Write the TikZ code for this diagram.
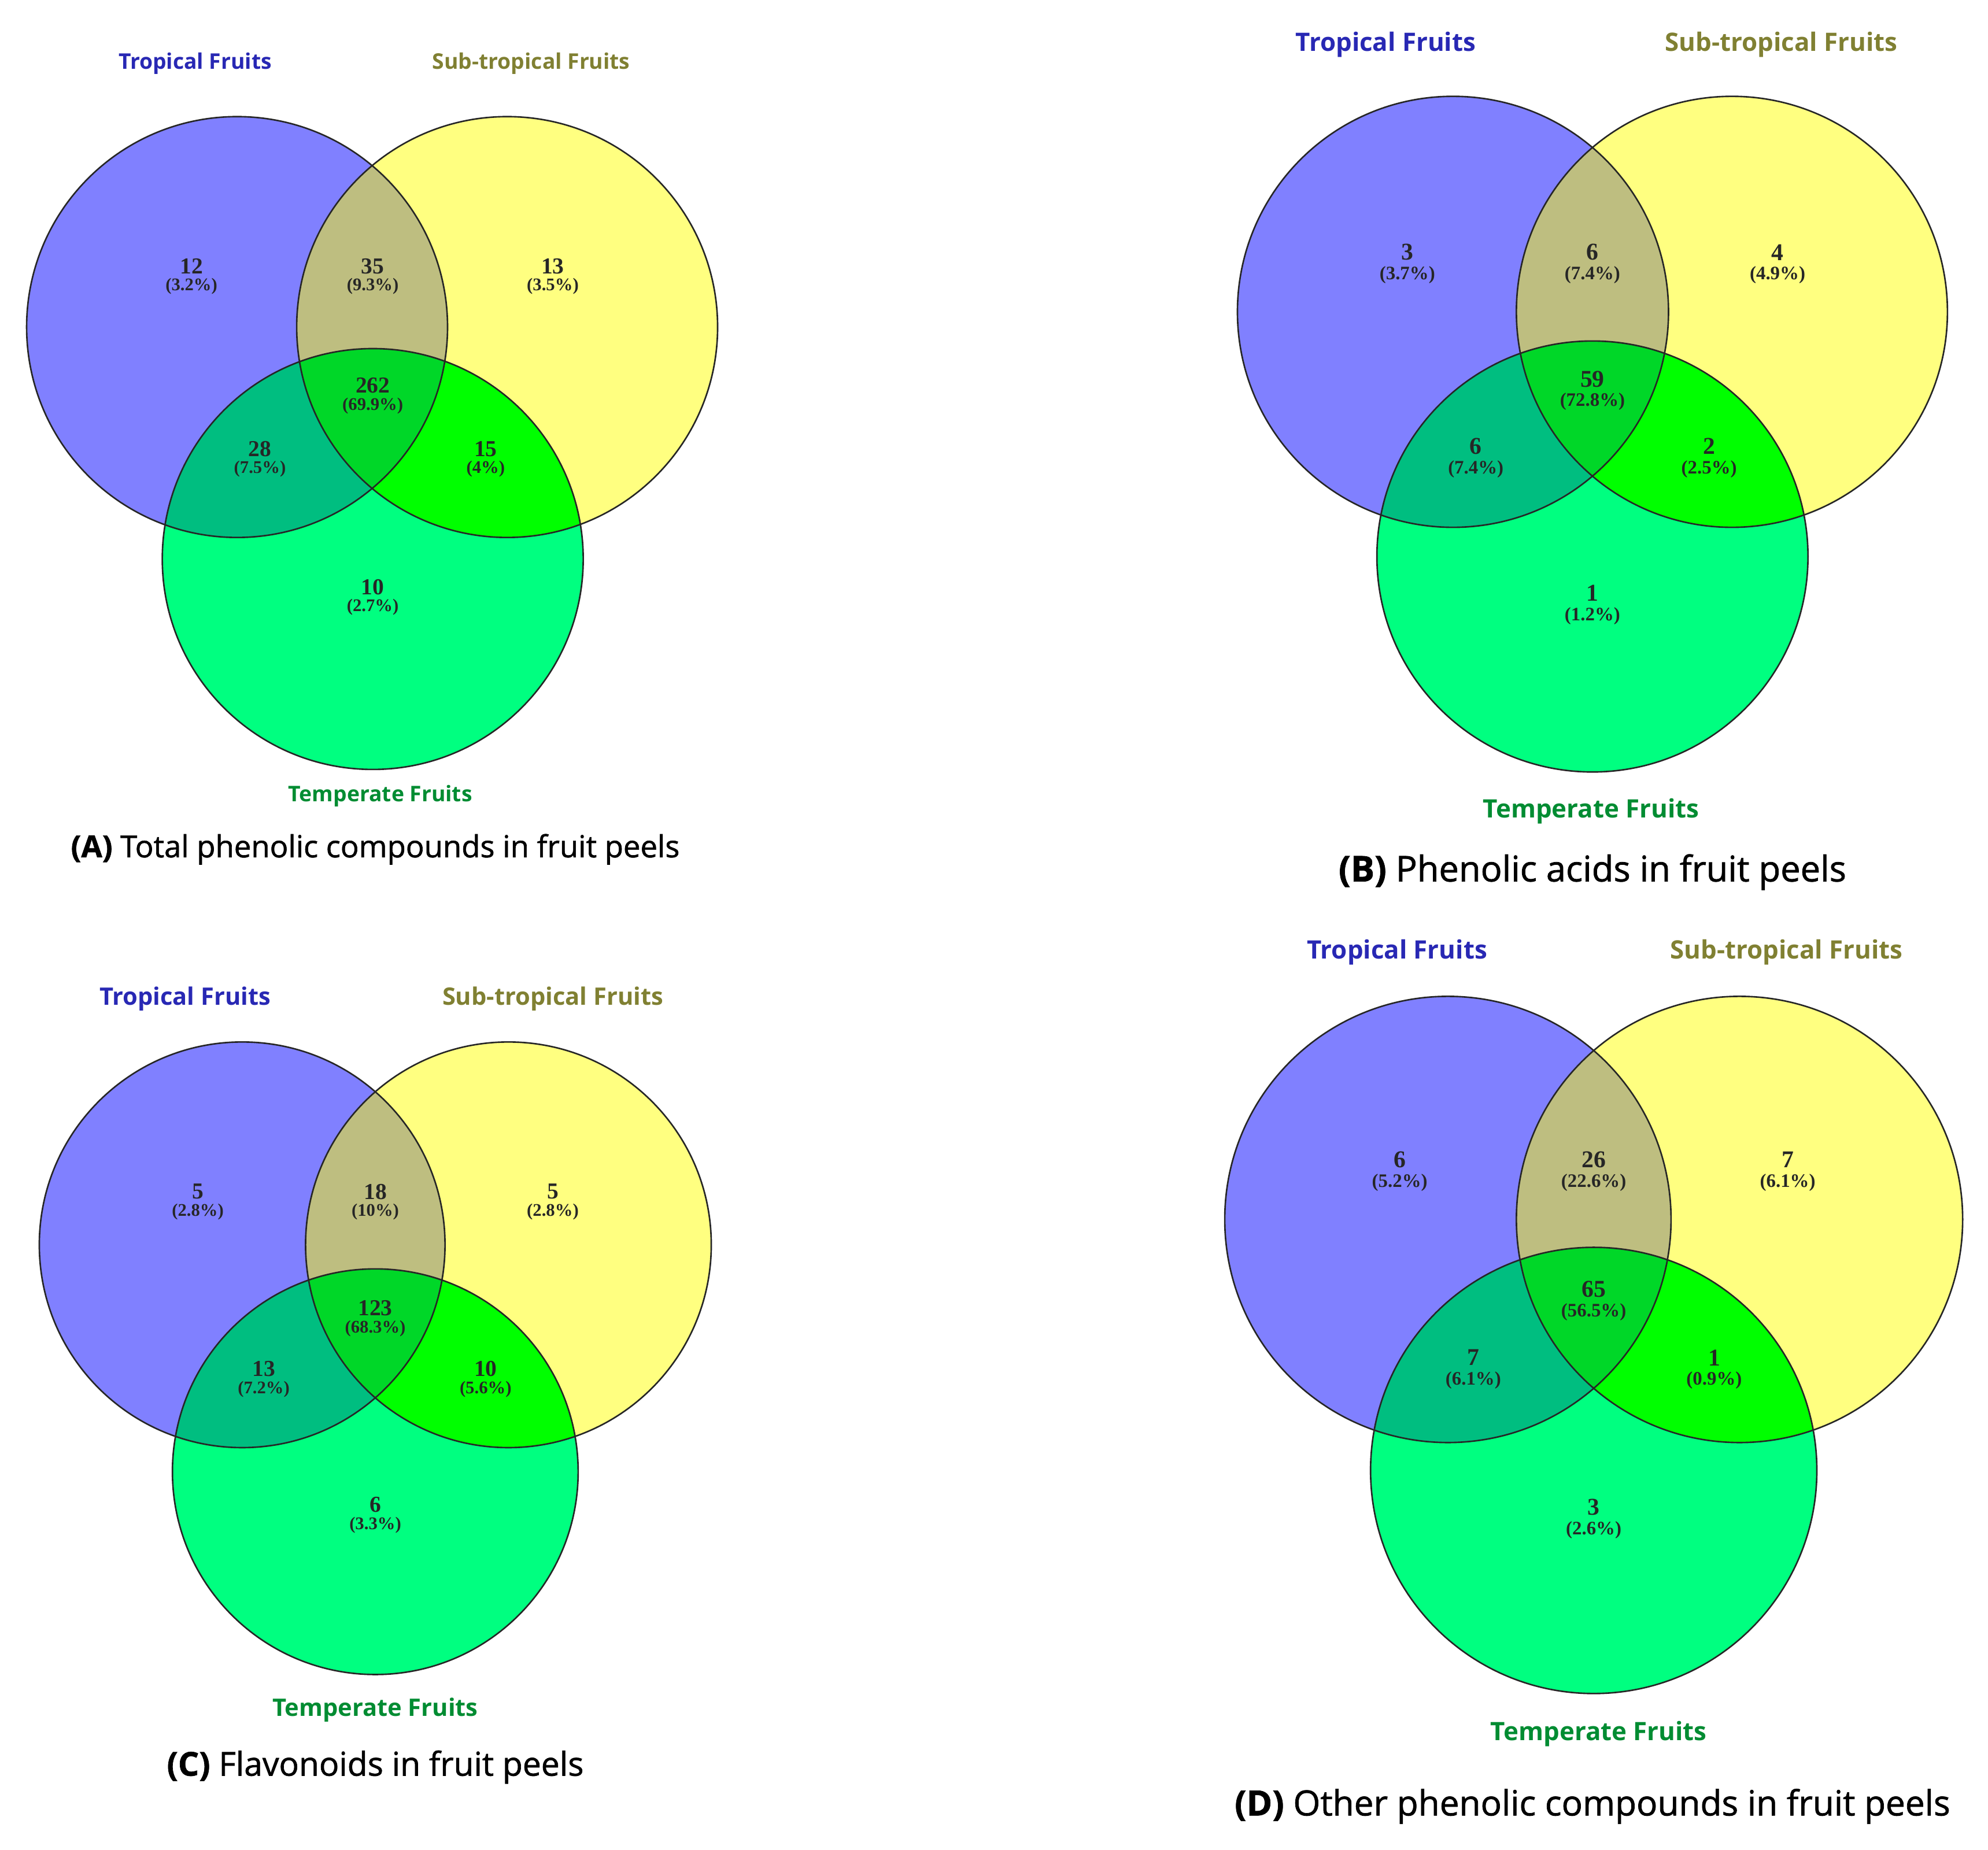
\documentclass[tikz,border=0pt]{standalone}
\usepackage{fontspec}
\setmainfont{Liberation Serif}
\newfontfamily\lblfont{Open Sans}
\newfontfamily\capfont[FakeBold=1.2]{Open Sans}
\definecolor{cA}{RGB}{128,128,255}
\definecolor{cB}{RGB}{255,255,128}
\definecolor{cC}{RGB}{0,255,128}
\definecolor{cAB}{RGB}{190,190,128}
\definecolor{cAC}{RGB}{0,190,128}
\definecolor{cBC}{RGB}{0,255,0}
\definecolor{cABC}{RGB}{0,215,40}
\definecolor{tropc}{RGB}{40,40,180}
\definecolor{subc}{RGB}{128,128,50}
\definecolor{tempc}{RGB}{0,140,50}
\tikzset{
  vline/.style={draw=black!85, line width=1.2pt},
  num/.style={font=\bfseries\fontsize{#1}{#1}\selectfont, inner sep=0pt, text=black!85},
  pct/.style={font=\bfseries\fontsize{#1}{#1}\selectfont, inner sep=0pt, text=black!85},
  lbl/.style={font=\lblfont\bfseries\fontsize{#1}{#1}\selectfont, inner sep=0pt},
  cap/.style={font=\capfont\fontsize{#1}{#1}\selectfont, inner sep=0pt, text=black},
  numtxt/.style={num=18}, pcttxt/.style={pct=14}
}
% #1 A centre, #2 B centre, #3 C centre, #4 radius (pt)
\newcommand{\venn}[4]{%
  \fill[cA] #1 circle[radius=#4pt];
  \fill[cB] #2 circle[radius=#4pt];
  \fill[cC] #3 circle[radius=#4pt];
  \begin{scope}\clip #1 circle[radius=#4pt]; \fill[cAB] #2 circle[radius=#4pt];\end{scope}
  \begin{scope}\clip #1 circle[radius=#4pt]; \fill[cAC] #3 circle[radius=#4pt];\end{scope}
  \begin{scope}\clip #2 circle[radius=#4pt]; \fill[cBC] #3 circle[radius=#4pt];\end{scope}
  \begin{scope}\clip #1 circle[radius=#4pt]; \clip #2 circle[radius=#4pt]; \fill[cABC] #3 circle[radius=#4pt];\end{scope}
  \draw[vline] #1 circle[radius=#4pt];
  \draw[vline] #2 circle[radius=#4pt];
  \draw[vline] #3 circle[radius=#4pt];
}
% name, x, y, number, percent, offset
\newcommand{\cnt}[6]{%
  \node[numtxt] (#1n) at (#2,#3) {#4};
  \node[pcttxt] (#1p) at (#2,#3+#6) {#5};
}
\begin{document}
\begin{tikzpicture}[x=1pt,y=-1pt]
\useasboundingbox (0,0) rectangle (1568,1459);
\fill[white] (0,0) rectangle (1568,1459);

% ---------------- Panel A
\venn{(187,258)}{(400,258)}{(294,441)}{166}
\node[lbl=17,text=tropc] (At) at (154,50) {Tropical Fruits};
\node[lbl=17,text=subc] (As) at (419,50) {Sub-tropical Fruits};
\node[lbl=17,text=tempc] (Am) at (300,628) {Temperate Fruits};
\node[cap=24] (Acap) at (296,670) {\textbf{(A)} Total phenolic compounds in fruit peels};
\cnt{A1}{151}{210}{12}{(3.2\%)}{16}
\cnt{A2}{294}{210}{35}{(9.3\%)}{16}
\cnt{A3}{436}{210}{13}{(3.5\%)}{16}
\cnt{A4}{294}{304}{262}{(69.9\%)}{16}
\cnt{A5}{205}{354}{28}{(7.5\%)}{16}
\cnt{A6}{383}{354}{15}{(4\%)}{16}
\cnt{A7}{294}{463}{10}{(2.7\%)}{16}

% ---------------- Panel B
\begin{scope}[numtxt/.style={num=19}, pcttxt/.style={pct=15}]
\venn{(1146,246)}{(1366,246)}{(1256,439)}{170}
\node[lbl=20,text=tropc] (Bt) at (1093,35) {Tropical Fruits};
\node[lbl=20,text=subc] (Bs) at (1405,35) {Sub-tropical Fruits};
\node[lbl=20,text=tempc] (Bm) at (1255,640) {Temperate Fruits};
\node[cap=28] (Bcap) at (1256,688) {\textbf{(B)} Phenolic acids in fruit peels};
\cnt{B1}{1110}{199}{3}{(3.7\%)}{18}
\cnt{B2}{1256}{199}{6}{(7.4\%)}{18}
\cnt{B3}{1402}{199}{4}{(4.9\%)}{18}
\cnt{B4}{1256}{299}{59}{(72.8\%)}{18}
\cnt{B5}{1164}{352}{6}{(7.4\%)}{18}
\cnt{B6}{1348}{352}{2}{(2.5\%)}{18}
\cnt{B7}{1256}{468}{1}{(1.2\%)}{18}
\end{scope}

% ---------------- Panel C
\venn{(191,982)}{(401,982)}{(296,1161)}{160}
\node[lbl=19,text=tropc] (Ct) at (146,788) {Tropical Fruits};
\node[lbl=19,text=subc] (Cs) at (436,788) {Sub-tropical Fruits};
\node[lbl=19,text=tempc] (Cm) at (296,1349) {Temperate Fruits};
\node[cap=26] (Ccap) at (296,1394) {\textbf{(C)} Flavonoids in fruit peels};
\cnt{C1}{156}{940}{5}{(2.8\%)}{16}
\cnt{C2}{296}{940}{18}{(10\%)}{16}
\cnt{C3}{436}{940}{5}{(2.8\%)}{16}
\cnt{C4}{296}{1032}{123}{(68.3\%)}{16}
\cnt{C5}{208}{1080}{13}{(7.2\%)}{16}
\cnt{C6}{383}{1080}{10}{(5.6\%)}{16}
\cnt{C7}{296}{1187}{6}{(3.3\%)}{16}

% ---------------- Panel D
\begin{scope}[numtxt/.style={num=19}, pcttxt/.style={pct=15}]
\venn{(1142,962)}{(1372,962)}{(1257,1160)}{176}
\node[lbl=20,text=tropc] (Dt) at (1102,751) {Tropical Fruits};
\node[lbl=20,text=subc] (Ds) at (1409,751) {Sub-tropical Fruits};
\node[lbl=20,text=tempc] (Dm) at (1261,1368) {Temperate Fruits};
\node[cap=27.5] (Dcap) at (1256,1425) {\textbf{(D)} Other phenolic compounds in fruit peels};
\cnt{D1}{1104}{915}{6}{(5.2\%)}{18}
\cnt{D2}{1257}{915}{26}{(22.6\%)}{18}
\cnt{D3}{1410}{915}{7}{(6.1\%)}{18}
\cnt{D4}{1257}{1017}{65}{(56.5\%)}{18}
\cnt{D5}{1162}{1071}{7}{(6.1\%)}{18}
\cnt{D6}{1352}{1071}{1}{(0.9\%)}{18}
\cnt{D7}{1257}{1189}{3}{(2.6\%)}{18}
\end{scope}
\end{tikzpicture}
\end{document}
